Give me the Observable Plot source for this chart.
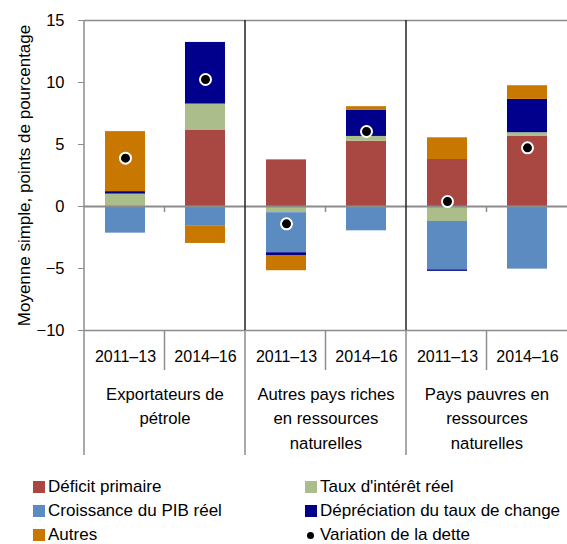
<!DOCTYPE html>
<html><head><meta charset="utf-8">
<script src="https://cdn.jsdelivr.net/npm/d3@7"></script>
<script src="https://cdn.jsdelivr.net/npm/@observablehq/plot@0.6"></script>
<style>
body{margin:0;background:#fff;font-family:"Liberation Sans",Arial,sans-serif;}
#chart svg{display:block}
#legend{display:grid;grid-template-columns:272px 262px;margin-left:33px;margin-top:7px;font-size:17px;line-height:24px;color:#000;}
.item{display:flex;align-items:center;white-space:nowrap}
.sw{width:12px;height:12px;margin-right:3px;flex:none}
.dt{width:7px;height:7px;border-radius:50%;background:#000;margin:0 6px 0 2px;flex:none}
</style></head><body>
<div id="chart"></div>
<div id="legend"></div>
<script>
const groups = ["Exportateurs de\npétrole", "Autres pays riches\nen ressources\nnaturelles", "Pays pauvres en\nressources\nnaturelles"];
const periods = ["2011–13", "2014–16"];
const components = ["Déficit primaire", "Taux d'intérêt réel", "Croissance du PIB réel", "Dépréciation du taux de change", "Autres"];
const colors = ["#A94843", "#ABBD8A", "#5B8BC0", "#00008C", "#C87700"];
const yTicks = [-10, -5, 0, 5, 10, 15];
// values ordered: group1 (2011–13, 2014–16), group2 (...), group3 (...)
const deficitPrimaire = [0, 6.13, 3.76, 5.27, 3.79, 5.65];
const tauxInteret = [1.0, 2.13, -0.5, 0.38, -1.21, 0.3];
const croissancePIB = [-2.15, -1.55, -3.23, -1.96, -3.9, -5.05];
const depreciation = [0.2, 4.97, -0.22, 2.1, -0.12, 2.69];
const autres = [4.84, -1.43, -1.23, 0.3, 1.75, 1.1];
const variationDette = [3.9, 10.24, -1.4, 6.05, 0.4, 4.73];

const series = [deficitPrimaire, tauxInteret, croissancePIB, depreciation, autres];
const keyOf = i => ({group: groups[Math.floor(i / 2)], period: periods[i % 2]});
const bars = [];
series.forEach((vals, c) => vals.forEach((v, i) => bars.push({...keyOf(i), component: components[c], value: v})));
const dots = variationDette.map((v, i) => ({...keyOf(i), value: v}));

const gray = "#8c8c8c";
const plot = Plot.plot({
  width: 567, height: 468,
  marginTop: 20, marginBottom: 138, marginLeft: 83, marginRight: 0,
  style: {fontFamily: "'Liberation Sans', Arial, sans-serif", fontSize: "16px", color: "#000", background: "#fff"},
  fx: {domain: groups, padding: 0},
  x: {domain: periods, paddingInner: 0.5, paddingOuter: 0.25},
  y: {domain: [-10, 15]},
  color: {domain: components, range: colors},
  marks: [
    Plot.barY(bars, {fx: "group", x: "period", y: "value", fill: "component", z: "component", order: null}),
    Plot.ruleY([15, -10], {stroke: gray, strokeWidth: 1.5}),
    Plot.ruleY([0], {stroke: gray, strokeWidth: 2}),
    Plot.dot(dots, {fx: "group", x: "period", y: "value", fill: "#000", stroke: "#fff", strokeWidth: 2, r: 5.5}),
    Plot.axisY({ticks: yTicks, tickSize: 6, tickPadding: 14, stroke: gray, fontSize: 16.5, label: null}),
    Plot.axisY({ticks: [], tickSize: 0, fontSize: 17,
      label: "Moyenne simple, points de pourcentage", labelAnchor: "center", labelOffset: 67, labelArrow: false}),
    Plot.axisX({tickSize: 0, tickPadding: 20, fontSize: 16, label: null}),
    Plot.axisFx({anchor: "bottom", tickSize: 0, tickPadding: 52, fontSize: 16.7, lineHeight: 1.47, label: null})
  ]
});
document.getElementById("chart").appendChild(plot);

// structural separators derived from the plot's scales
const fxS = plot.scale("fx"), yS = plot.scale("y");
const bw = fxS.bandwidth;
const yTop = yS.apply(15), yBot = yS.apply(-10), y0 = yS.apply(0);
const g = d3.select(plot).append("g").attr("stroke-width", 1.5);
groups.forEach((gr, i) => {
  const left = fxS.apply(gr);
  const mid = left + bw / 2;
  g.append("line").attr("x1", left).attr("x2", left).attr("y1", yTop).attr("y2", yBot).attr("stroke", i === 0 ? gray : "#222");
  g.append("line").attr("x1", left).attr("x2", left).attr("y1", yBot).attr("y2", yBot + 125).attr("stroke", gray);
  g.append("line").attr("x1", mid).attr("x2", mid).attr("y1", yBot).attr("y2", yBot + 40).attr("stroke", gray);
  g.append("line").attr("x1", mid).attr("x2", mid).attr("y1", y0).attr("y2", y0 + 6).attr("stroke", gray);
});

// legend
const legendItems = [
  {label: components[0], color: colors[0]}, {label: components[1], color: colors[1]},
  {label: components[2], color: colors[2]}, {label: components[3], color: colors[3]},
  {label: components[4], color: colors[4]}, {label: "Variation de la dette", dot: true}
];
const leg = document.getElementById("legend");
legendItems.forEach(it => {
  const d = document.createElement("div"); d.className = "item";
  const s = document.createElement("span");
  if (it.dot) s.className = "dt"; else { s.className = "sw"; s.style.background = it.color; }
  d.appendChild(s);
  d.appendChild(document.createTextNode(it.label));
  leg.appendChild(d);
});
</script>
</body></html>
